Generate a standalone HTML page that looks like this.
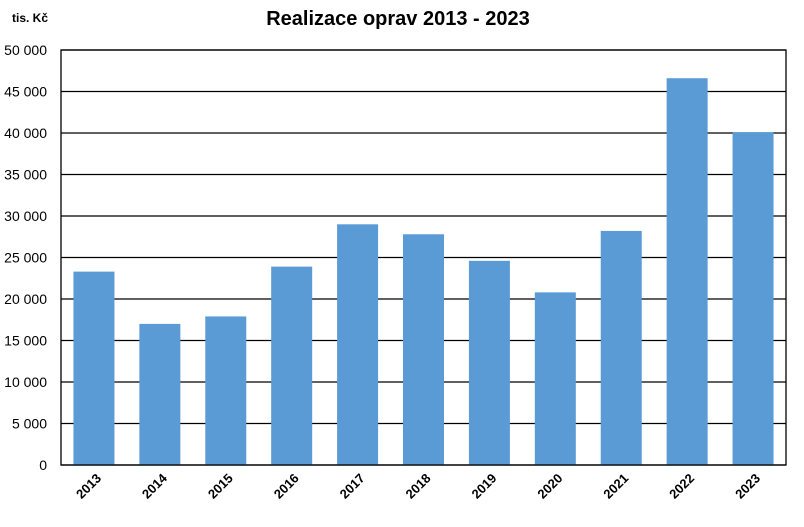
<!DOCTYPE html>
<html><head><meta charset="utf-8"><style>
body{margin:0;background:#fff;font-family:"Liberation Sans",Arial,sans-serif}
</style></head><body>
<svg id="chart" width="804" height="522" xmlns="http://www.w3.org/2000/svg">
<rect x="0" y="0" width="804" height="522" fill="#fff"/>
<text x="398" y="25" text-anchor="middle" font-size="20" font-weight="bold">Realizace oprav 2013 - 2023</text>
<text x="12" y="22" font-size="12" font-weight="bold">tis. Kč</text>
<g id="grid"></g>
<g id="bars"></g>
<g id="ylab"></g>
<g id="xlab"></g>
<rect x="61" y="50" width="725" height="415" fill="none" stroke="#000" stroke-width="1.3"/>
</svg>
<script>
const categories=["2013","2014","2015","2016","2017","2018","2019","2020","2021","2022","2023"];
const values=[23300,17000,17900,23900,29000,27800,24600,20800,28200,46600,40100];
const yTicks=[0,5000,10000,15000,20000,25000,30000,35000,40000,45000,50000];
const yTickLabels=["0","5 000","10 000","15 000","20 000","25 000","30 000","35 000","40 000","45 000","50 000"];
const L=61,R=786,T=50,B=465,yMax=50000;
const ns="http://www.w3.org/2000/svg";
const y=v=>B-(v/yMax)*(B-T);
const cw=(R-L)/categories.length;
const x=i=>L+i*cw;
function mk(t,a,p){const e=document.createElementNS(ns,t);for(const k in a)e.setAttribute(k,a[k]);p.appendChild(e);return e;}
const g=document.getElementById('grid'),yl=document.getElementById('ylab'),bs=document.getElementById('bars'),xl=document.getElementById('xlab');
yTicks.forEach((v,i)=>{
  const ln=mk('line',{x1:L,x2:R,y1:y(v),y2:y(v),stroke:'#000','stroke-width':1.2},g);
  
  
  const t=mk('text',{x:47,y:y(v)+5,'text-anchor':'end','font-size':14},yl);
  t.textContent=yTickLabels[i];
  
  
});
const bw=41;
categories.forEach((c,i)=>{
  const cx=x(i)+cw/2;
  const r=mk('rect',{x:cx-bw/2,y:y(values[i]),width:bw,height:B-y(values[i]),fill:'#5b9bd5'},bs);
  
  
  const t=mk('text',{x:cx+8,y:B+14,'text-anchor':'end','font-size':13,'font-weight':'bold',transform:`rotate(-45 ${cx+8} ${B+14})`},xl);
  t.textContent=c;
  
  
});
</script>
</body></html>
